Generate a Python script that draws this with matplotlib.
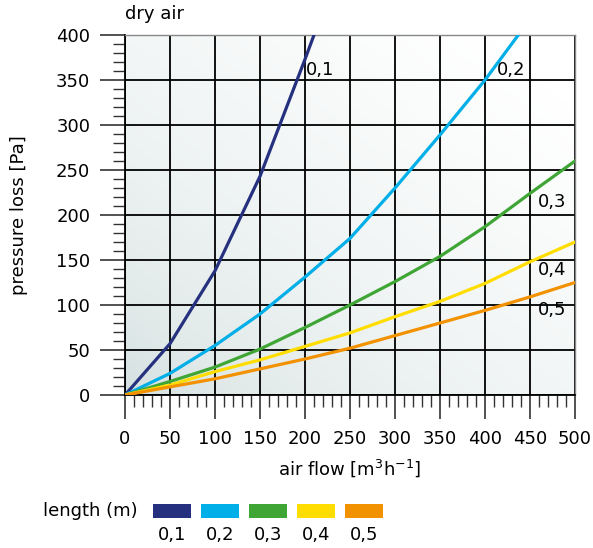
import numpy as np
import matplotlib
matplotlib.use("Agg")
import matplotlib.pyplot as plt
from matplotlib.patches import Rectangle
from matplotlib.colors import LinearSegmentedColormap

plt.rcParams['font.family'] = ['DejaVu Sans']

# data
flow = [0, 50, 100, 150, 200, 250, 300, 350, 400, 450, 500]
x_01 = [0, 50, 100, 150, 200, 210]
y_01 = [0, 57, 138, 243, 373, 400]
x_02 = [0, 50, 100, 150, 200, 250, 300, 350, 400, 437]
y_02 = [0, 24, 55, 90, 131, 174, 230, 289, 350, 400]
y_03 = [0, 15, 31, 51, 75, 100, 126, 154, 187, 224, 260]
y_04 = [0, 11, 26, 39, 54, 69, 87, 104, 124, 148, 170]
y_05 = [0, 9, 18, 29, 40, 52, 66, 80, 94, 109, 125]

lengths = ['0,1', '0,2', '0,3', '0,4', '0,5']
colors = ['#25317f', '#00aee8', '#3fa535', '#ffdd00', '#f39200']
label_pos = [(201, 361), (413, 361), (459, 214), (459, 139), (459, 94)]

fig = plt.figure(figsize=(5.93, 5.48), dpi=100)
ax = fig.add_axes([125/593, 1-395/548, 450/593, 360/548])

# background gradient, darker at bottom left
cmap = LinearSegmentedColormap.from_list('bg', ['#cfdcdc', '#ffffff'])
gx, gy = np.meshgrid(np.linspace(0, 1, 200), np.linspace(0, 1, 200))
ax.imshow(np.sqrt((gx + gy) / 2), cmap=cmap, extent=[0, 500, 0, 400], origin='lower',
          aspect='auto', zorder=0, vmin=0, vmax=0.95)

ax.set_xlim(0, 500)
ax.set_ylim(0, 400)
ax.set_xticks(np.arange(0, 501, 50))
ax.set_yticks(np.arange(0, 401, 50))
ax.set_xticks(np.arange(0, 501, 10), minor=True)
ax.set_yticks(np.arange(0, 401, 10), minor=True)
ax.grid(True, which='major', color='black', linewidth=1.3, zorder=1)
ax.tick_params(which='major', direction='out', length=18, width=1.2, color='#333333',
               labelsize=13, pad=7)
ax.tick_params(which='minor', direction='out', length=8.5, width=1.0, color='#333333')
ax.tick_params(axis='x', which='major', length=17, pad=8)

for side in ['top', 'right']:
    ax.spines[side].set_color('#888888')
    ax.spines[side].set_linewidth(1.0)
for side in ['left', 'bottom']:
    ax.spines[side].set_color('black')
    ax.spines[side].set_linewidth(1.3)

ys = [None, None, y_03, y_04, y_05]
ax.plot(x_01, y_01, color=colors[0], lw=2.3, zorder=3)
ax.plot(x_02, y_02, color=colors[1], lw=2.3, zorder=3)
for i in [2, 3, 4]:
    ax.plot(flow, ys[i], color=colors[i], lw=2.3, zorder=3)

for lab, (lx, ly) in zip(lengths, label_pos):
    ax.text(lx, ly, lab, fontsize=13, ha='left', va='center', zorder=4)

ax.text(0, 413, 'dry air', fontsize=13, ha='left', va='bottom', clip_on=False)
ax.set_ylabel('pressure loss [Pa]', fontsize=13, labelpad=20)
ax.set_xlabel('air flow [m$^3$h$^{-1}$]', fontsize=13, labelpad=7)

# legend row in figure pixel coordinates
leg = fig.add_axes([0, 0, 1, 1], facecolor='none')
leg.set_xlim(0, 593)
leg.set_ylim(548, 0)
leg.axis('off')
leg.text(138, 511, 'length (m)', fontsize=13, ha='right', va='center')
for i, (lab, c) in enumerate(zip(lengths, colors)):
    x0 = 153 + i * 48
    leg.add_patch(Rectangle((x0, 504), 38, 14, facecolor=c, edgecolor='none'))
    leg.text(x0 + 19, 535, lab, fontsize=13, ha='center', va='center')

fig.savefig('out.png', dpi=100)
